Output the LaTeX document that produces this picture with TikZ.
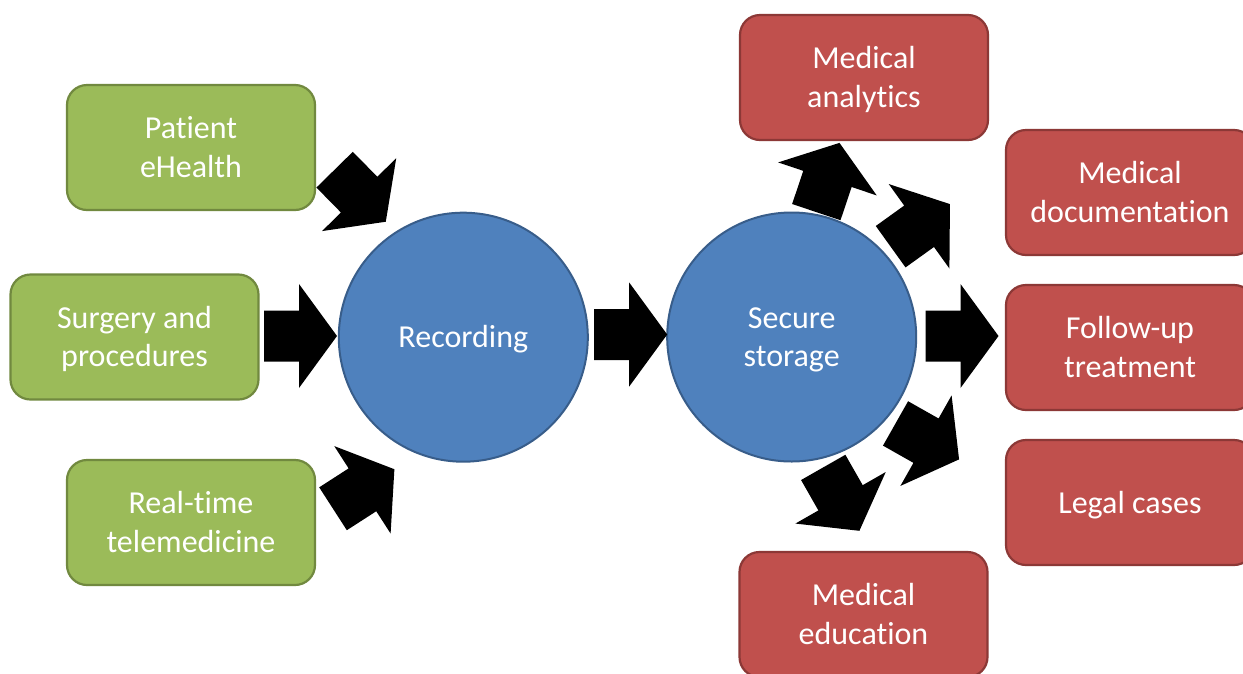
\documentclass[tikz,border=0pt]{standalone}
\usepackage{fontspec}
\setmainfont{Carlito}[Ligatures=NoCommon]

\definecolor{srcgreen}{HTML}{9BBB59}
\definecolor{srcgreenline}{HTML}{71893F}
\definecolor{hubblue}{HTML}{4F81BD}
\definecolor{hubblueline}{HTML}{385D8A}
\definecolor{tgtred}{HTML}{C0504D}
\definecolor{tgtredline}{HTML}{8C3836}

% invisible strut that gives every text line the same box height and depth
\newcommand{\linestrut}{\rule[-8.5pt]{0pt}{38pt}}
% one centred line, and two centred lines stacked at the font's baselineskip
\newcommand{\oneline}[1]{\linestrut#1}
\newcommand{\twolines}[2]{\vbox{\halign{\hfil##\hfil\cr
  \linestrut#1\cr\linestrut#2\cr}}}

\tikzset{
  % thick black block arrow pointing along +x, centred on its origin
  blockarrow/.pic={
    \fill[black] (-36.5,-25.5) -- (-1.5,-25.5) -- (-1.5,-52) -- (36.5,0)
      -- (-1.5,52) -- (-1.5,25.5) -- (-36.5,25.5) -- cycle;
  },
  label text/.style={font=\fontsize{32}{38.5}\selectfont, text=white},
  box/.style={label text, rounded corners=20pt, minimum width=248pt,
    minimum height=125pt, line width=2.2pt, inner sep=0pt},
  source/.style={box, fill=srcgreen, draw=srcgreenline},
  target/.style={box, fill=tgtred, draw=tgtredline},
  hub/.style={label text, circle, minimum size=249pt, inner sep=0pt,
    fill=hubblue, draw=hubblueline, line width=2pt},
}

\begin{document}
\begin{tikzpicture}[x=1pt,y=-1pt]
  \fill[white] (0,0) rectangle (1243,673);
  \useasboundingbox (0,0) rectangle (1243,673);

  % data sources
  \node[source] (ehealth) at (191,147.5) {\twolines{Patient}{eHealth}};
  \node[source] (surgery) at (134.5,337) {\twolines{Surgery and}{procedures}};
  \node[source] (tele)    at (191,522.5) {\twolines{Real-time}{telemedicine}};

  % processing stages
  \node[hub] (rec)   at (463.3,337.2) {\oneline{Recording}};
  \node[hub] (store) at (791.7,337)   {\twolines{Secure}{storage}};

  % uses of the stored records
  \node[target] (analytics) at (864,77.5)    {\twolines{Medical}{analytics}};
  \node[target] (docs)      at (1130,192.5)  {\twolines{Medical}{documentation}};
  \node[target] (follow)    at (1130,347.5)  {\twolines{Follow-up}{treatment}};
  \node[target] (legal)     at (1130,502.5)  {\oneline{Legal cases}};
  \node[target] (edu)       at (863.5,614.5) {\twolines{Medical}{education}};

  % flows into recording
  \pic[rotate=-45.5] at (360.2,195.7) {blockarrow};
  \pic               at (300.5,336)   {blockarrow};
  \pic[rotate=32.8]  at (363.7,489)   {blockarrow};

  % recording to storage
  \pic at (630.7,334.5) {blockarrow};

  % flows out of storage
  \pic[rotate=71.5]  at (827.9,177.5) {blockarrow};
  \pic[rotate=35.7]  at (920.3,225.4) {blockarrow};
  \pic               at (962,336)     {blockarrow};
  \pic[rotate=-29.5] at (927.3,441.4) {blockarrow};
  \pic[rotate=-60.3] at (841.3,499.1) {blockarrow};
\end{tikzpicture}
\end{document}
